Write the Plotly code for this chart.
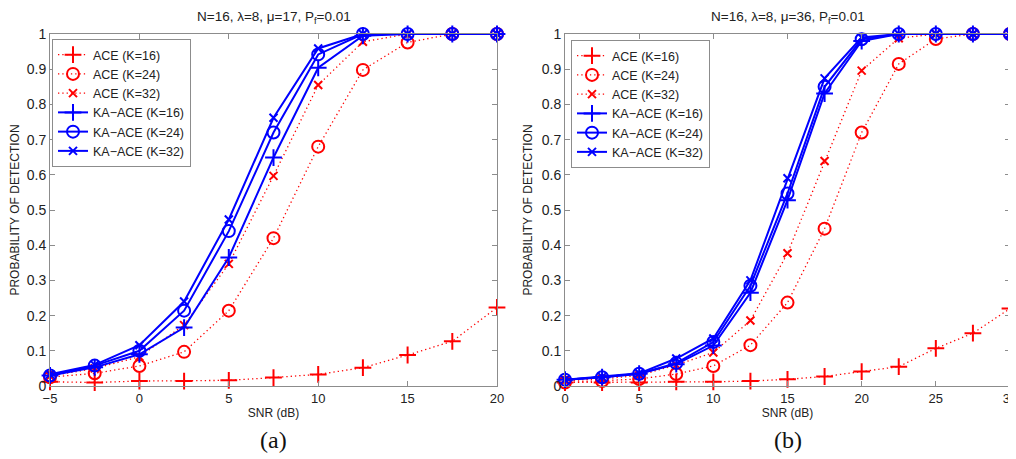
import plotly.graph_objects as go

# ---------------- data ----------------
snr_a = [-5, -2.5, 0, 2.5, 5, 7.5, 10, 12.5, 15, 17.5, 20]
ace16_a = [0.012, 0.01, 0.014, 0.014, 0.016, 0.024, 0.033, 0.052, 0.088, 0.127, 0.223]
ace24_a = [0.025, 0.036, 0.057, 0.097, 0.214, 0.42, 0.68, 0.898, 0.976, 1.0, 1.0]
ace32_a = [0.028, 0.05, 0.083, 0.173, 0.347, 0.597, 0.855, 0.978, 1.0, 1.0, 1.0]
ka16_a = [0.03, 0.053, 0.09, 0.166, 0.365, 0.649, 0.904, 0.995, 1.0, 1.0, 1.0]
ka24_a = [0.03, 0.058, 0.10, 0.214, 0.44, 0.72, 0.942, 1.0, 1.0, 1.0, 1.0]
ka32_a = [0.033, 0.06, 0.116, 0.24, 0.473, 0.762, 0.959, 1.0, 1.0, 1.0, 1.0]

snr_b = [0, 2.5, 5, 7.5, 10, 12.5, 15, 17.5, 20, 22.5, 25, 27.5, 30]
ace16_b = [0.01, 0.01, 0.01, 0.012, 0.012, 0.014, 0.019, 0.027, 0.041, 0.055, 0.107, 0.15, 0.22]
ace24_b = [0.01, 0.014, 0.02, 0.034, 0.057, 0.116, 0.237, 0.447, 0.72, 0.915, 0.986, 1.0, 1.0]
ace32_b = [0.015, 0.02, 0.03, 0.06, 0.095, 0.186, 0.377, 0.639, 0.896, 0.988, 1.0, 1.0, 1.0]
ka16_b = [0.018, 0.025, 0.035, 0.062, 0.115, 0.265, 0.528, 0.831, 0.98, 1.0, 1.0, 1.0, 1.0]
ka24_b = [0.018, 0.025, 0.035, 0.065, 0.125, 0.285, 0.547, 0.85, 0.985, 1.0, 1.0, 1.0, 1.0]
ka32_b = [0.018, 0.026, 0.036, 0.078, 0.135, 0.30, 0.59, 0.874, 0.99, 1.0, 1.0, 1.0, 1.0]

names = ["ACE (K=16)", "ACE (K=24)", "ACE (K=32)",
         "KA\u2212ACE (K=16)", "KA\u2212ACE (K=24)", "KA\u2212ACE (K=32)"]
title_a = "N=16, \u03bb=8, \u03bc=17, P<sub>f</sub>=0.01"
title_b = "N=16, \u03bb=8, \u03bc=36, P<sub>f</sub>=0.01"
yticks = [0, 0.1, 0.2, 0.3, 0.4, 0.5, 0.6, 0.7, 0.8, 0.9, 1]
ytick_text = ["0", "0.1", "0.2", "0.3", "0.4", "0.5", "0.6", "0.7", "0.8", "0.9", "1"]

RED = "#ff0000"
BLUE = "#0000ff"
symbols = ["cross-thin-open", "circle-open", "x-thin-open"]
sizes = [12, 12, 8]
FONT = "Liberation Sans, Arial, sans-serif"

fig = go.Figure()

def add_panel(x, series, xa, ya, legend):
    for i, (y, nm) in enumerate(zip(series, names)):
        ka = i >= 3
        sym = symbols[i % 3]
        col = BLUE if ka else RED
        fig.add_trace(go.Scatter(
            x=x, y=y, name=nm, mode="lines+markers",
            xaxis=xa, yaxis=ya, legend=legend, cliponaxis=False,
            line=dict(color=col, width=2 if ka else 1.3, dash="solid" if ka else "1.3px,3px"),
            marker=dict(symbol=sym, size=sizes[i % 3], color=col,
                        line=dict(color=col, width=2)),
        ))

add_panel(snr_a, [ace16_a, ace24_a, ace32_a, ka16_a, ka24_a, ka32_a], "x", "y", "legend")
add_panel(snr_b, [ace16_b, ace24_b, ace32_b, ka16_b, ka24_b, ka32_b], "x2", "y2", "legend2")

W, H = 1016, 459
OFF = 8  # page body margin offset


def px(x):
    return (x - OFF) / W


def py(y):
    return (H - (y - OFF)) / H


dom_a = [px(50), px(497)]
dom_b = [px(565), px(1010)]
dom_y = [py(386), py(34)]

axis_common = dict(showgrid=False, zeroline=False, showline=True, mirror="ticks",
                   linecolor="#8c8c8c", linewidth=1, ticks="inside", ticklen=5,
                   tickcolor="#8c8c8c", automargin=False, ticklabeloverflow="allow")
xtickfont = dict(family=FONT, size=13, color="#222")
ytickfont = dict(family=FONT, size=14, color="#222")
title_font = dict(family=FONT, size=12, color="#222")

legend_common = dict(bgcolor="white", bordercolor="#8c8c8c", borderwidth=1,
                     font=dict(family=FONT, size=12.5, color="#222"),
                     xanchor="left", yanchor="top", tracegroupgap=0, itemwidth=30)

fig.update_layout(
    template="none",
    width=W, height=H, paper_bgcolor="white", plot_bgcolor="white",
    margin=dict(l=0, r=0, t=0, b=0, autoexpand=False),
    showlegend=True,
    xaxis=dict(domain=dom_a, range=[-5, 20], tickvals=[-5, 0, 5, 10, 15, 20], anchor="y",
               tickfont=xtickfont,
               title=dict(text="SNR (dB)", font=title_font, standoff=4),
               **axis_common),
    yaxis=dict(domain=dom_y, range=[0, 1], tickvals=yticks, ticktext=ytick_text, anchor="x",
               tickfont=ytickfont,
               title=dict(text="PROBABILITY OF DETECTION", font=title_font, standoff=6),
               **axis_common),
    xaxis2=dict(domain=dom_b, range=[0, 30], tickvals=[0, 5, 10, 15, 20, 25, 30], anchor="y2",
                tickfont=xtickfont,
                title=dict(text="SNR (dB)", font=title_font, standoff=4),
                **axis_common),
    yaxis2=dict(domain=dom_y, range=[0, 1], tickvals=yticks, ticktext=ytick_text, anchor="x2",
                tickfont=ytickfont,
                title=dict(text="PROBABILITY OF DETECTION", font=title_font, standoff=6),
                **axis_common),
    legend=dict(x=px(52), y=py(39), **legend_common),
    legend2=dict(x=px(571), y=py(40), **legend_common),
    annotations=[
        dict(text=title_a, x=(dom_a[0] + dom_a[1]) / 2, y=py(17), xref="paper", yref="paper",
             xanchor="center", yanchor="middle", showarrow=False,
             font=dict(family=FONT, size=13.5, color="#222")),
        dict(text=title_b, x=(dom_b[0] + dom_b[1]) / 2, y=py(17), xref="paper", yref="paper",
             xanchor="center", yanchor="middle", showarrow=False,
             font=dict(family=FONT, size=13.5, color="#222")),
        dict(text="(a)", x=(dom_a[0] + dom_a[1]) / 2, y=py(440), xref="paper", yref="paper",
             xanchor="center", yanchor="middle", showarrow=False,
             font=dict(family="Liberation Serif, Times New Roman, serif", size=24, color="#111")),
        dict(text="(b)", x=(dom_b[0] + dom_b[1]) / 2, y=py(440), xref="paper", yref="paper",
             xanchor="center", yanchor="middle", showarrow=False,
             font=dict(family="Liberation Serif, Times New Roman, serif", size=24, color="#111")),
    ],
)

fig.write_html("out.html")
